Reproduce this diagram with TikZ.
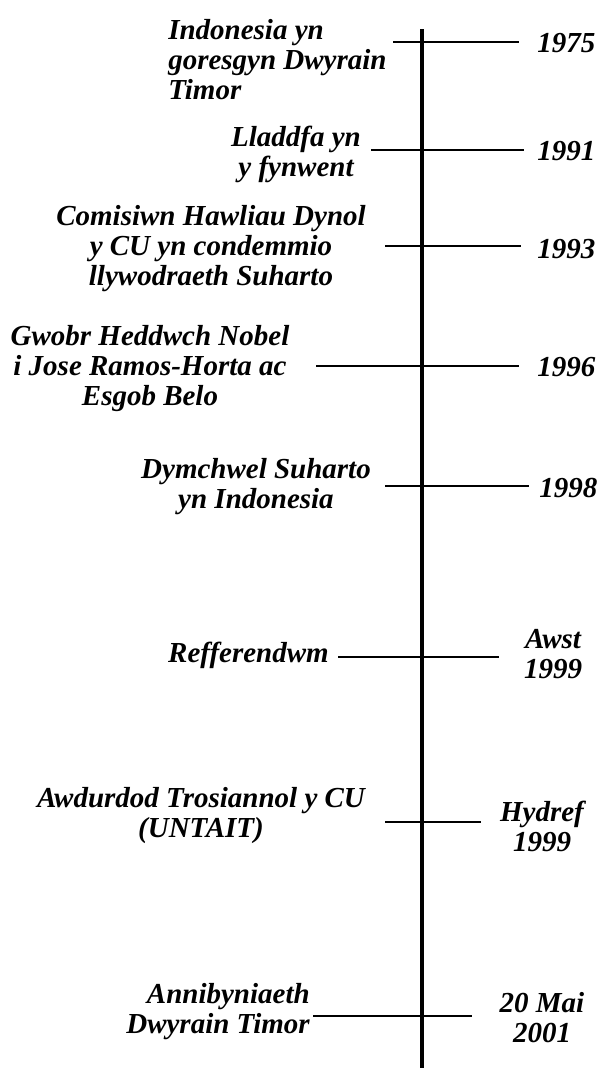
\documentclass[tikz,border=0pt]{standalone}
\usepackage{fontspec}
\setmainfont{Liberation Serif}
\begin{document}
\begin{tikzpicture}[x=0.75pt,y=-0.75pt,
  lbl/.style={inner sep=0pt,font=\fontsize{21.75}{22.5}\selectfont\bfseries\itshape},
  axisline/.style={line width=3.4pt,black},
  tick/.style={line width=1.6pt,black}]
\useasboundingbox (0,0) rectangle (605,1068);
% axis
\coordinate (top) at (422,29);
\coordinate (bot) at (422,1068);
\draw[axisline] (top) -- (bot);
% tick ends
\coordinate (a1) at (393,42);  \coordinate (b1) at (519,42);
\coordinate (a2) at (371,150); \coordinate (b2) at (524,150);
\coordinate (a3) at (385,246); \coordinate (b3) at (521,246);
\coordinate (a4) at (316,366); \coordinate (b4) at (519,366);
\coordinate (a5) at (385,486); \coordinate (b5) at (529,486);
\coordinate (a6) at (338,657); \coordinate (b6) at (499,657);
\coordinate (a7) at (385,822); \coordinate (b7) at (481,822);
\coordinate (a8) at (313,1016); \coordinate (b8) at (472,1016);
\foreach \i in {1,...,8} {\draw[tick] (a\i) -- (b\i);}
% left labels (base anchor = baseline of last line)
\node[lbl,anchor=base west,align=left] (l1) at (168,99) {Indonesia yn\\goresgyn Dwyrain\\Timor};
\node[lbl,anchor=base,align=center] (l2) at (296,176) {Lladdfa yn\\y fynwent};
\node[lbl,anchor=base,align=center] (l3) at (211,285) {Comisiwn Hawliau Dynol\\y CU yn condemmio\\llywodraeth Suharto};
\node[lbl,anchor=base,align=center] (l4) at (150,405) {Gwobr Heddwch Nobel\\i Jose Ramos-Horta ac\\Esgob Belo};
\node[lbl,anchor=base,align=center] (l5) at (256,508) {Dymchwel Suharto\\yn Indonesia};
\node[lbl,anchor=base east] (l6) at (329,662) {Refferendwm};
\node[lbl,anchor=base,align=center] (l7) at (201,837) {Awdurdod Trosiannol y CU\\(UNTAIT)};
\node[lbl,anchor=base east,align=right] (l8) at (310,1033) {Annibyniaeth\\Dwyrain Timor};
% right labels
\node[lbl,anchor=base west] (r1) at (537,52) {1975};
\node[lbl,anchor=base west] (r2) at (537,160) {1991};
\node[lbl,anchor=base west] (r3) at (537,258) {1993};
\node[lbl,anchor=base west] (r4) at (537,376) {1996};
\node[lbl,anchor=base west] (r5) at (539,497) {1998};
\node[lbl,anchor=base,align=center] (r6) at (553,678) {Awst\\1999};
\node[lbl,anchor=base,align=center] (r7) at (542,851) {Hydref\\1999};
\node[lbl,anchor=base,align=center] (r8) at (542,1042) {20 Mai\\2001};
\end{tikzpicture}
\end{document}
